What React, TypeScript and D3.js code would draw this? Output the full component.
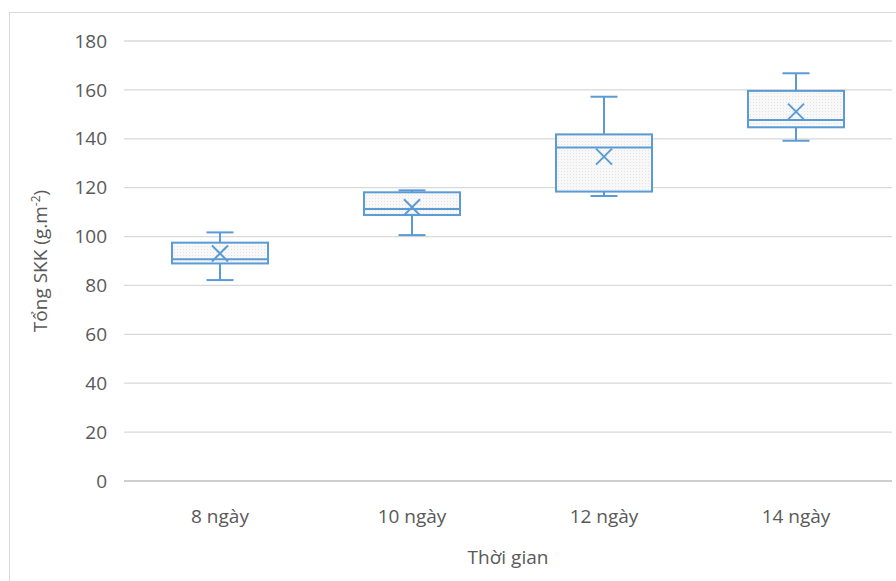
import React from "react";
import * as d3 from "d3";

const categories = ["8 ngày", "10 ngày", "12 ngày", "14 ngày"];
const whiskerLow = [82.2, 100.6, 116.6, 139.2];
const q1 = [89, 108.8, 118.4, 144.7];
const median = [90.7, 111.3, 136.4, 147.7];
const q3 = [97.5, 118.1, 141.8, 159.6];
const whiskerHigh = [101.7, 118.9, 157.2, 166.8];
const means = [93.1, 112, 132.7, 151.1];
const yTicks = [0, 20, 40, 60, 80, 100, 120, 140, 160, 180];

const W = 896;
const H = 581;
const left = 124;
const right = 892;
const top = 41;
const bottom = 481;
const blue = "#5b9bd5";
const font = "'Open Sans', 'Noto Sans', sans-serif";
const fs = 19;

export default function App() {
  const x = d3.scaleBand<string>().domain(categories).range([left, right]).paddingInner(0).paddingOuter(0);
  const y = d3.scaleLinear().domain([0, 180]).range([bottom, top]);
  const bw = x.bandwidth() * 0.5;
  const capW = 27;
  const mk = 8;
  return (
    <svg width={W} height={H} style={{ position: "absolute", left: 0, top: 0 }}>
      <defs>
        <pattern id="dots" width="3" height="3" patternUnits="userSpaceOnUse">
          <rect width="3" height="3" fill="#f8f8f8" />
          <rect width="1" height="1" fill="#e3e3e3" />
        </pattern>
      </defs>
      <rect x={0} y={0} width={W} height={H} fill="#fff" />
      <rect x={9.5} y={12.5} width={W} height={H} fill="none" stroke="#d9d9d9" strokeWidth={1} />
      {yTicks.map((t) => (
        <g key={t}>
          <line x1={left} x2={right} y1={y(t)} y2={y(t)} stroke={t === 0 ? "#bfbfbf" : "#d9d9d9"} strokeWidth={1.3} />
          <text x={107} y={y(t)} dy="0.35em" textAnchor="end" fontSize={fs} fill="#595959" fontFamily={font}>
            {t}
          </text>
        </g>
      ))}
      {categories.map((c, i) => {
        const cx = x(c)! + x.bandwidth() / 2;
        const x0 = cx - bw / 2;
        return (
          <g key={c} stroke={blue} strokeWidth={2} fill="none">
            <line x1={cx} x2={cx} y1={y(whiskerHigh[i])} y2={y(q3[i])} />
            <line x1={cx} x2={cx} y1={y(whiskerLow[i])} y2={y(q1[i])} />
            <line x1={cx - capW / 2} x2={cx + capW / 2} y1={y(whiskerHigh[i])} y2={y(whiskerHigh[i])} />
            <line x1={cx - capW / 2} x2={cx + capW / 2} y1={y(whiskerLow[i])} y2={y(whiskerLow[i])} />
            <rect x={x0} y={y(q3[i])} width={bw} height={y(q1[i]) - y(q3[i])} fill="url(#dots)" />
            <line x1={x0} x2={x0 + bw} y1={y(median[i])} y2={y(median[i])} />
            <line x1={cx - mk} x2={cx + mk} y1={y(means[i]) - mk} y2={y(means[i]) + mk} />
            <line x1={cx - mk} x2={cx + mk} y1={y(means[i]) + mk} y2={y(means[i]) - mk} />
            <text x={cx} y={516} dy="0.35em" textAnchor="middle" fontSize={fs} fill="#595959" stroke="none" fontFamily={font}>
              {c}
            </text>
          </g>
        );
      })}
      <text x={508} y={557} dy="0.35em" textAnchor="middle" fontSize={fs} fill="#595959" fontFamily={font}>
        Thời gian
      </text>
      <text
        transform={`translate(40, ${(top + bottom) / 2}) rotate(-90)`}
        textAnchor="middle"
        dy="0.35em"
        fontSize={fs}
        fill="#595959"
        fontFamily={font}
      >
        Tổng SKK (g.m<tspan dy="-7" fontSize={12}>-2</tspan><tspan dy="7">)</tspan>
      </text>
    </svg>
  );
}
